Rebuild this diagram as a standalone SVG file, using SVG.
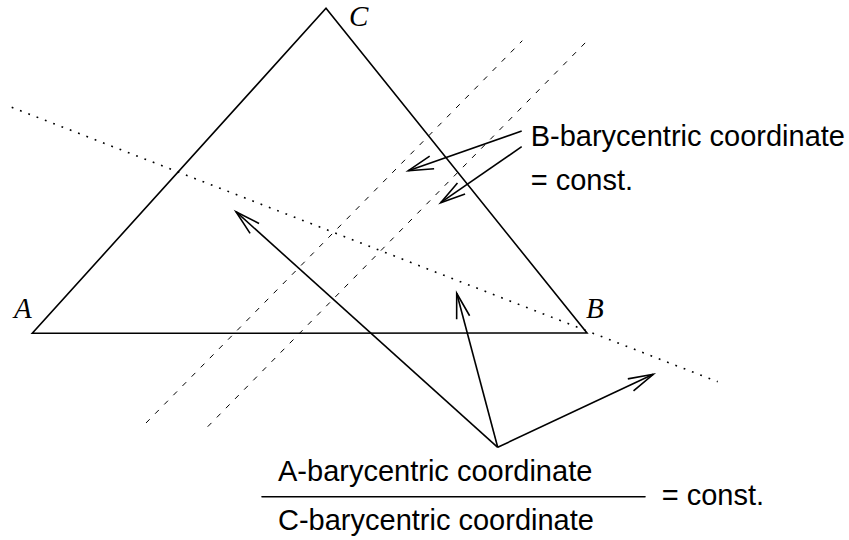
<svg xmlns="http://www.w3.org/2000/svg" width="849" height="540" viewBox="0 0 849 540">
  <style>
    .solid { fill: none; stroke: #000; stroke-width: 1.6; stroke-linecap: round; stroke-linejoin: miter; }
    .arrow { fill: none; stroke: #000; stroke-width: 1.6; marker-end: url(#vhead); }
    .dashed { fill: none; stroke: #000; stroke-width: 1; stroke-dasharray: 5.3 7.7; }
    .dotted { fill: none; stroke: #000; stroke-width: 1.6; stroke-dasharray: 1.8 7.1; }
    .label { font-family: "Liberation Serif", "Times New Roman", serif; font-style: italic; font-size: 29px; fill: #000; }
    .txt { font-family: "Liberation Sans", Arial, sans-serif; font-size: 29px; fill: #000; }
  </style>
  <defs>
    <marker id="vhead" markerUnits="userSpaceOnUse" markerWidth="60" markerHeight="60" refX="0" refY="0" orient="auto" overflow="visible">
      <path d="M -25 -6.7 L 0 0 L -25 6.7" fill="none" stroke="#000" stroke-width="1.6"/>
    </marker>
  </defs>
  <rect x="0" y="0" width="849" height="540" fill="#fff"/>

  <g id="triangle">
    <path class="solid" d="M 32.3 333.3 L 587 333 L 326 8.3 Z"/>
  </g>

  <g id="vertex-labels">
    <text id="label-A" class="label" x="14" y="318">A</text>
    <text id="label-B" class="label" x="586" y="318">B</text>
    <text id="label-C" class="label" x="349" y="26">C</text>
  </g>

  <g id="guide-lines">
    <line class="dotted" x1="11.7" y1="107.3" x2="717.7" y2="381.7"/>
    <line class="dashed" x1="146" y1="423" x2="522.3" y2="40.7"/>
    <line class="dashed" x1="207.7" y1="426.7" x2="587.3" y2="40.7"/>
  </g>

  <g id="connectors">
    <line class="arrow" x1="521.7" y1="131" x2="408.3" y2="170.7"/>
    <line class="arrow" x1="521.7" y1="146.7" x2="440.7" y2="202.7"/>
    <line class="arrow" x1="497.7" y1="447.3" x2="236" y2="211.7"/>
    <line class="arrow" x1="497.7" y1="447.3" x2="456.7" y2="293.3"/>
    <line class="arrow" x1="497.7" y1="447.3" x2="653.3" y2="374.3"/>
  </g>

  <g id="b-label">
    <text class="txt" x="530.7" y="146">B-barycentric coordinate</text>
    <text class="txt" x="530.7" y="190">= const.</text>
  </g>

  <g id="ac-label">
    <text class="txt" x="278" y="481">A-barycentric coordinate</text>
    <line class="solid" x1="262" y1="496.7" x2="645" y2="496.7" stroke-linecap="butt"/>
    <text class="txt" x="278" y="530">C-barycentric coordinate</text>
    <text class="txt" x="661.7" y="505">= const.</text>
  </g>
</svg>
